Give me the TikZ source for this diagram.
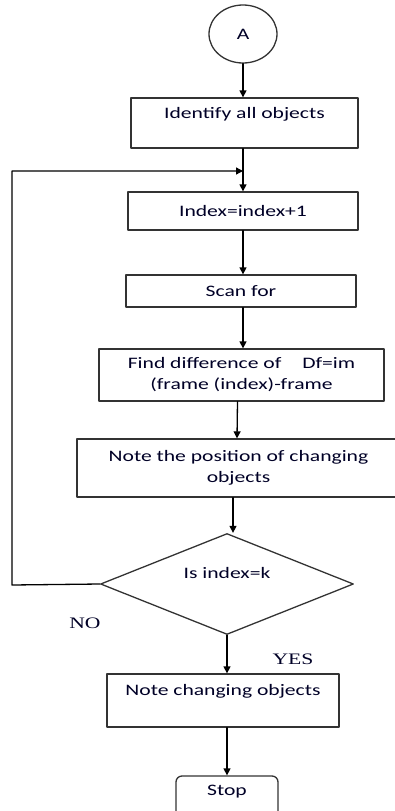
\documentclass[tikz,border=0pt]{standalone}
\usepackage{fontspec}
\setmainfont[FakeStretch=1.35]{Carlito}
\newfontfamily\yesnofont[FakeStretch=1.35]{Liberation Serif}
\usetikzlibrary{shapes.geometric,arrows.meta,positioning,calc}
\tikzstyle{arrow} = [line width=1.3pt,-{Triangle[length=7pt,width=7pt]}]
\tikzstyle{stepbox} = [draw=black!80,line width=1.3pt,rectangle,align=center,inner sep=0pt]

\begin{document}
\begin{tikzpicture}[
        x=1pt,y=-1pt,
        line cap=round,
        line join=round,
        every node/.style={font=\fontsize{16}{21}\selectfont,text=black!85!blue}
    ]

        \useasboundingbox (0,0) rectangle (395,811);
        \clip (0,0) rectangle (395,811);

        % 起点连接符
        \node[draw=black!80,line width=1.3pt,ellipse,minimum width=68,minimum height=58,inner sep=0pt]
            (A) at (243,34) {A};

        % 处理框
        \node[stepbox,minimum width=227,minimum height=50] (ident) at (244.5,123)
            {Identify all objects\\\mbox{}};
        \node[stepbox,minimum width=230,minimum height=38] (index) at (243,211)
            {Index=index+1};
        \node[stepbox,minimum width=230,minimum height=32] (scan) at (241,291)
            {Scan for};
        \node[stepbox,minimum width=285,minimum height=52] (diff) at (241.5,375)
            {Find difference of\quad\ Df=im\\(frame (index)-frame};
        \node[stepbox,minimum width=323,minimum height=58] (pos) at (238.5,468)
            {Note the position of changing\\objects};

        % 判断
        \node[draw=black!80,line width=1.3pt,diamond,minimum width=253,minimum height=101,inner sep=0pt]
            (check) at (227,584) {};
        \node at (227,573) (checktext) {Is index=k};

        \node[stepbox,minimum width=232,minimum height=53] (chg) at (223,700.5)
            {Note changing objects\\\mbox{}};
        \node[draw=black!80,line width=1.3pt,rounded corners=6pt,minimum width=102,minimum height=50,inner sep=0pt]
            (stop) at (227,801) {};
        \node at (227,792) (stoptext) {Stop};

        % 回路汇合点
        \coordinate (join) at (243,171);

        % 箭头
        \draw[arrow] (A.south) -- (ident.north -| A.south);
        \draw[arrow] (ident.south -| A.south) -- (index.north -| A.south);
        \draw[arrow] (index.south -| A.south) -- (scan.north -| A.south);
        \draw[arrow] (scan.south -| A.south) -- (diff.north -| A.south);
        \draw[arrow] ($(diff.south)+(-4,0)$) -- ($(pos.north)+(-1.5,0)$);
        \draw[arrow] ($(pos.south)+(-5.5,0)$) -- ($(check.north)+(6,0)$);
        \draw[arrow] (check.west) -- (12,585) |- (join);
        \draw[arrow] (check.south) -- (check.south |- chg.north);
        \draw[arrow] (check.south |- chg.south) -- (stop.north);

        % 分支标注
        \node[font=\yesnofont\fontsize{16}{18}\selectfont] (no) at (85,623) {NO};
        \node[font=\yesnofont\fontsize{16}{18}\selectfont] (yes) at (293,659) {YES};

    \end{tikzpicture}
\end{document}
